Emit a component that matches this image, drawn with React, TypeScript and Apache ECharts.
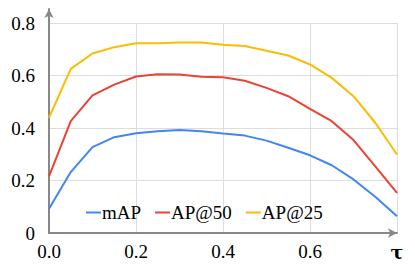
import React, { useEffect, useRef } from "react";
import * as echarts from "echarts";

const taus = [0, 0.05, 0.1, 0.15, 0.2, 0.25, 0.3, 0.35, 0.4, 0.45, 0.5, 0.55, 0.6, 0.65, 0.7, 0.75, 0.8];
const mAP = [0.092, 0.232, 0.327, 0.365, 0.38, 0.388, 0.392, 0.388, 0.379, 0.371, 0.352, 0.325, 0.296, 0.258, 0.204, 0.138, 0.064];
const ap50 = [0.216, 0.426, 0.524, 0.565, 0.596, 0.605, 0.604, 0.595, 0.593, 0.58, 0.553, 0.521, 0.473, 0.426, 0.354, 0.254, 0.153];
const ap25 = [0.439, 0.625, 0.684, 0.708, 0.723, 0.723, 0.726, 0.726, 0.717, 0.712, 0.694, 0.676, 0.642, 0.591, 0.521, 0.42, 0.299];
const seriesNames = ["mAP", "AP@50", "AP@25"];
const colors = ["#4285F4", "#EA4335", "#FBBC04"];

const FONT = "Liberation Serif";

export default function App() {
  const ref = useRef<HTMLDivElement>(null);
  useEffect(() => {
    if (!ref.current) return;
    const chart = echarts.init(ref.current, null, { renderer: "svg" });
    const values = [mAP, ap50, ap25];
    chart.setOption({
      animation: false,
      textStyle: { fontFamily: FONT },
      grid: [
        { left: 49, right: 18, top: 23, bottom: 31, containLabel: false },
        { left: 49, right: 18, top: 9, bottom: 31, containLabel: false },
      ],
      legend: {
        data: seriesNames,
        left: 86,
        top: 203,
        padding: 0,
        itemGap: 14,
        itemWidth: 15,
        itemHeight: 2,
        icon: "rect",
        textStyle: { fontFamily: FONT, fontSize: 19, color: "#000", padding: [0, 0, 0, -4] },
      },
      xAxis: [
        {
          type: "value",
          gridIndex: 0,
          min: 0,
          max: 0.8,
          interval: 0.2,
          axisLine: {
            show: true,
            lineStyle: { color: "#888", width: 2 },
            symbol: ["none", "arrow"],
            symbolSize: [7, 9],
          },
          axisTick: { show: false },
          splitLine: { show: true, lineStyle: { color: "#ddd", width: 1 } },
          axisLabel: {
            margin: 9,
            fontFamily: FONT,
            fontSize: 19,
            color: "#000",
            formatter: (v: number) => (Math.abs(v - 0.8) < 1e-6 ? "{t|τ}" : v.toFixed(1)),
            rich: { t: { fontFamily: "DejaVu Serif", fontSize: 19, fontWeight: "bold", color: "#000" } },
          },
        },
        { type: "value", gridIndex: 1, show: false, min: 0, max: 0.8 },
      ],
      yAxis: [
        {
          type: "value",
          gridIndex: 0,
          min: 0,
          max: 0.8,
          interval: 0.2,
          axisLine: { show: false },
          axisTick: { show: false },
          splitLine: { show: true, lineStyle: { color: "#ddd", width: 1 } },
          axisLabel: {
            margin: 14,
            fontFamily: FONT,
            fontSize: 19,
            color: "#000",
            formatter: (v: number) => (v === 0 ? "0" : v.toFixed(1)),
          },
        },
        {
          type: "value",
          gridIndex: 1,
          min: 0,
          max: 1,
          axisLine: {
            show: true,
            onZero: false,
            lineStyle: { color: "#888", width: 2 },
            symbol: ["none", "arrow"],
            symbolSize: [7, 9],
          },
          axisTick: { show: false },
          axisLabel: { show: false },
          splitLine: { show: false },
        },
      ],
      series: seriesNames.map((name, i) => ({
        name,
        type: "line",
        xAxisIndex: 0,
        yAxisIndex: 0,
        data: taus.map((t, j) => [t, values[i][j]]),
        symbol: "none",
        color: colors[i],
        lineStyle: { width: 2, color: colors[i] },
        z: 3,
      })),
    });
    return () => chart.dispose();
  }, []);
  return <div ref={ref} style={{ width: 415, height: 264, position: "absolute", left: 0, top: 0 }} />;
}
